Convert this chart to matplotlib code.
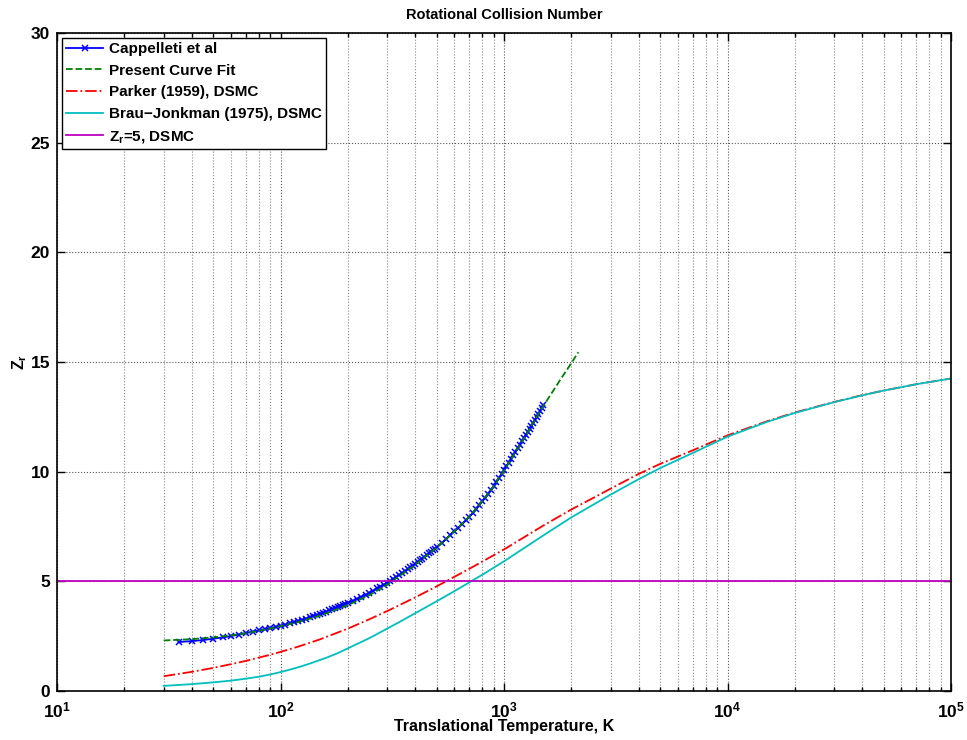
import matplotlib
matplotlib.use("Agg")
import matplotlib.pyplot as plt
from matplotlib.ticker import LogLocator, MultipleLocator, LogFormatterSciNotation, NullFormatter

plt.rcParams['font.family'] = ['Liberation Sans', 'DejaVu Sans']
plt.rcParams['font.weight'] = 'bold'
plt.rcParams['mathtext.fontset'] = 'custom'
plt.rcParams['mathtext.rm'] = 'Liberation Sans:bold'
plt.rcParams['mathtext.bf'] = 'Liberation Sans:bold'
plt.rcParams['mathtext.it'] = 'Liberation Sans:bold'

# Cappelleti et al (measured)
capp_T = [35, 40, 45, 50, 55, 60, 65, 70, 75, 80, 85, 90, 95, 100,
          105, 110, 115, 120, 125, 130, 135, 140, 145, 150, 155, 160, 165, 170, 175, 180, 185, 190, 195, 200,
          210, 220, 230, 240, 250, 260, 270, 280, 290, 300, 310, 320, 330, 340, 350,
          360, 370, 380, 390, 400, 410, 420, 430, 440, 450, 460, 470, 480, 490, 500,
          525, 550, 575, 600, 625, 650, 675, 700, 725, 750, 775, 800, 825, 850, 875, 900,
          925, 950, 975, 1000, 1025, 1050, 1075, 1100, 1125, 1150, 1175, 1200, 1225, 1250,
          1275, 1300, 1325, 1350, 1375, 1400, 1425, 1450, 1475, 1500]
capp_Z = [2.24, 2.28, 2.33, 2.39, 2.45, 2.51, 2.58, 2.65, 2.71, 2.77, 2.83, 2.88, 2.93, 2.98,
          3.035, 3.09, 3.145, 3.20, 3.255, 3.31, 3.365, 3.42, 3.47, 3.52, 3.575, 3.63, 3.68, 3.73, 3.78,
          3.83, 3.88, 3.93, 3.975, 4.02,
          4.11, 4.21, 4.30, 4.39, 4.49, 4.58, 4.68, 4.77, 4.86, 4.95, 5.03, 5.12, 5.21, 5.30, 5.38,
          5.47, 5.55, 5.64, 5.72, 5.81, 5.89, 5.97, 6.04, 6.12, 6.20, 6.28, 6.35, 6.43, 6.50, 6.57,
          6.75, 6.93, 7.11, 7.28, 7.45, 7.62, 7.78, 7.95, 8.12, 8.30, 8.47, 8.65, 8.82, 9.00, 9.17, 9.35,
          9.53, 9.72, 9.90, 10.08, 10.25, 10.42, 10.59, 10.75, 10.91, 11.07, 11.23, 11.38, 11.53, 11.67,
          11.81, 11.95, 12.09, 12.23, 12.37, 12.50, 12.63, 12.76, 12.89, 13.02]

# present curve fit
fit_T = [30, 40, 50, 60, 70, 80, 90, 100, 120, 150, 200, 250, 300, 400, 500, 600, 700, 800, 900,
         1000, 1200, 1500, 1800, 2000, 2150]
fit_Z = [2.31, 2.37, 2.45, 2.54, 2.64, 2.75, 2.86, 2.96, 3.15, 3.44, 3.92, 4.38, 4.85, 5.75, 6.55,
         7.28, 7.97, 8.66, 9.35, 10.05, 11.35, 13.0, 14.25, 14.95, 15.45]

# Parker (1959), DSMC
parker_T = [30, 40, 50, 60, 70, 80, 90, 100, 120, 150, 200, 250, 300, 400, 500, 700, 1000,
            1500, 2000, 3000, 4000, 5000, 7000, 10000, 15000, 20000, 30000, 40000, 50000, 70000, 100000]
parker_Z = [0.68, 0.88, 1.06, 1.23, 1.38, 1.53, 1.66, 1.79, 2.03, 2.36, 2.85, 3.28, 3.65, 4.27, 4.78,
            5.58, 6.46, 7.55, 8.28, 9.23, 9.90, 10.36, 10.98, 11.66, 12.30, 12.70, 13.18, 13.49,
            13.70, 13.99, 14.25]

# Brau-Jonkman (1975), DSMC
brau_T = [30, 40, 50, 60, 70, 80, 90, 100, 110, 120, 130, 140, 150, 160, 180, 200, 250, 300, 350,
          400, 500, 600, 700, 800, 900, 1000, 1500, 2000, 3000, 4000, 5000, 7000, 10000, 15000,
          20000, 30000, 40000, 50000, 70000, 100000]
brau_Z = [0.24, 0.32, 0.40, 0.48, 0.57, 0.66, 0.76, 0.87, 0.98, 1.09, 1.20, 1.31, 1.42, 1.52, 1.73,
          1.95, 2.42, 2.85, 3.22, 3.55, 4.10, 4.56, 4.96, 5.31, 5.63, 5.92, 7.10, 7.92, 8.96, 9.66,
          10.17, 10.86, 11.60, 12.27, 12.68, 13.17, 13.48, 13.70, 13.99, 14.25]

# constant Zr = 5
const_T = [10, 100000]
const_Z = [5, 5]

fig = plt.figure(figsize=(9.67, 7.40), dpi=100)
ax = fig.add_axes([0.059, 0.066, 0.9245, 0.8895])

ax.plot(capp_T, capp_Z, color='#0000ff', marker='x', markersize=4, markeredgewidth=1.1,
        lw=1.3, label='Cappelleti et al')
ax.plot(fit_T, fit_Z, color='#008000', ls='--', lw=1.3, label='Present Curve Fit')
ax.plot(parker_T, parker_Z, color='#ff0000', ls='-.', lw=1.3, label='Parker (1959), DSMC')
ax.plot(brau_T, brau_Z, color='#00bfbf', lw=1.3, label='Brau\u2212Jonkman (1975), DSMC')
ax.plot(const_T, const_Z, color='#bf00bf', lw=1.3, label='Z$_\\mathregular{r}$=5, DSMC')

ax.set_xscale('log')
ax.set_xlim(10, 1e5)
ax.set_ylim(0, 30)
ax.xaxis.set_major_locator(LogLocator(base=10, numticks=10))
ax.xaxis.set_minor_locator(LogLocator(base=10, subs=range(2, 10), numticks=20))
ax.xaxis.set_major_formatter(LogFormatterSciNotation())
ax.xaxis.set_minor_formatter(NullFormatter())
ax.yaxis.set_major_locator(MultipleLocator(5))

ax.grid(True, which='major', ls=':', color='#555555', lw=0.8)
ax.grid(True, which='minor', axis='x', ls=':', color='#888888', lw=0.8)
ax.tick_params(which='both', direction='in', top=True, right=True, labelsize=12.5, width=1)
ax.tick_params(which='major', length=6)
ax.tick_params(which='minor', length=3)
ax.tick_params(axis='x', which='major', pad=7)
ax.tick_params(axis='y', which='major', pad=5)
for s in ax.spines.values():
    s.set_linewidth(1.2)

ax.set_title('Rotational Collision Number', fontsize=10.5, fontweight='bold', pad=10)
ax.set_xlabel('Translational Temperature, K', fontsize=11.5, fontweight='bold', labelpad=-1)
ax.set_ylabel('Z$_\\mathregular{r}$', fontsize=11.5, fontweight='bold', labelpad=1)

leg = ax.legend(loc='upper left', fontsize=11, fancybox=False, framealpha=1,
                edgecolor='black', borderaxespad=0.3, handlelength=2.4,
                labelspacing=0.5, borderpad=0.3, handletextpad=0.4)
leg.get_frame().set_linewidth(1.0)

fig.savefig('out.png', dpi=100)
